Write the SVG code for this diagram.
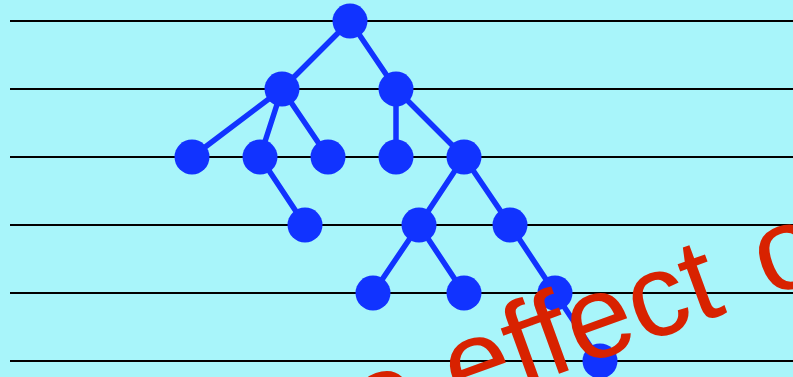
<svg xmlns="http://www.w3.org/2000/svg" width="793" height="377" viewBox="0 0 793 377">
<style>
.rule{stroke:#000;stroke-width:1.8}
.edge{stroke:#1133ff;stroke-width:5.5;stroke-linecap:round}
.node{fill:#1133ff}
.title{font-family:"Liberation Sans",Arial,sans-serif;font-size:118px;fill:#d82200}
</style>
<rect width="793" height="377" fill="#a8f5fa"/>
<g id="rules">
<line class="rule" x1="10" y1="21" x2="793" y2="21"/>
<line class="rule" x1="10" y1="89" x2="793" y2="89"/>
<line class="rule" x1="10" y1="157" x2="793" y2="157"/>
<line class="rule" x1="10" y1="225" x2="793" y2="225"/>
<line class="rule" x1="10" y1="293" x2="793" y2="293"/>
<line class="rule" x1="10" y1="361" x2="793" y2="361"/>
</g>
<g id="connectors">
<line class="edge" x1="350" y1="21" x2="282" y2="89"/>
<line class="edge" x1="350" y1="21" x2="396" y2="89"/>
<line class="edge" x1="282" y1="89" x2="192" y2="157"/>
<line class="edge" x1="282" y1="89" x2="260" y2="157"/>
<line class="edge" x1="282" y1="89" x2="328" y2="157"/>
<line class="edge" x1="396" y1="89" x2="396" y2="157"/>
<line class="edge" x1="396" y1="89" x2="464" y2="157"/>
<line class="edge" x1="260" y1="157" x2="305" y2="225"/>
<line class="edge" x1="464" y1="157" x2="419" y2="225"/>
<line class="edge" x1="464" y1="157" x2="510" y2="225"/>
<line class="edge" x1="419" y1="225" x2="373" y2="293"/>
<line class="edge" x1="419" y1="225" x2="464" y2="293"/>
<line class="edge" x1="510" y1="225" x2="555" y2="293"/>
<line class="edge" x1="555" y1="293" x2="600" y2="361"/>
</g>
<g id="n1"><circle class="node" cx="350" cy="21" r="17.5"/></g>
<g id="n2"><circle class="node" cx="282" cy="89" r="17.5"/></g>
<g id="n3"><circle class="node" cx="396" cy="89" r="17.5"/></g>
<g id="n4"><circle class="node" cx="192" cy="157" r="17.5"/></g>
<g id="n5"><circle class="node" cx="260" cy="157" r="17.5"/></g>
<g id="n6"><circle class="node" cx="328" cy="157" r="17.5"/></g>
<g id="n7"><circle class="node" cx="396" cy="157" r="17.5"/></g>
<g id="n8"><circle class="node" cx="464" cy="157" r="17.5"/></g>
<g id="n9"><circle class="node" cx="305" cy="225" r="17.5"/></g>
<g id="n10"><circle class="node" cx="419" cy="225" r="17.5"/></g>
<g id="n11"><circle class="node" cx="510" cy="225" r="17.5"/></g>
<g id="n12"><circle class="node" cx="373" cy="293" r="17.5"/></g>
<g id="n13"><circle class="node" cx="464" cy="293" r="17.5"/></g>
<g id="n14"><circle class="node" cx="555" cy="293" r="17.5"/></g>
<g id="n15"><circle class="node" cx="600" cy="361" r="17.5"/></g>
<text class="title" x="237" y="491" transform="rotate(-20 237 491)">The effect <tspan dx="10">of</tspan></text>
</svg>
